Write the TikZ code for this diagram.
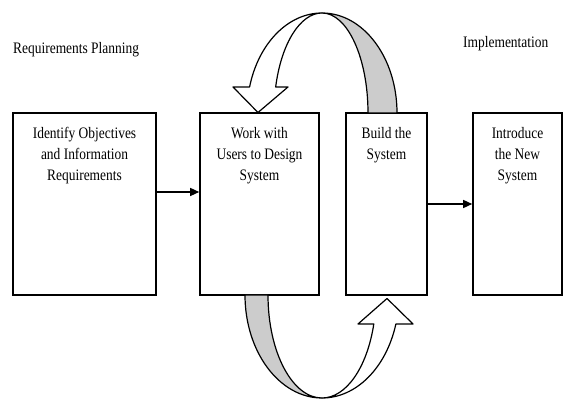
\documentclass[tikz,border=0pt]{standalone}
\usepackage{fontspec}
\setmainfont[FakeStretch=0.84]{Liberation Serif}
\usetikzlibrary{arrows.meta}
\begin{document}
\begin{tikzpicture}[x=1pt,y=1pt,
  stage/.style={draw, line width=1.6pt, minimum height=182pt, inner sep=0pt, fill=white},
  stagetext/.style={anchor=north, align=center, inner sep=0pt, font=\fontsize{16}{21}\selectfont},
  heading/.style={anchor=base west, inner sep=0pt, font=\fontsize{16}{19}\selectfont},
  flow/.style={line width=1.4pt, -{Triangle[length=9pt,width=8pt]}},
  loopfront/.style={draw, line width=1.2pt, fill=white, line join=round},
  loopback/.style={draw, line width=1.2pt, fill=black!20, line join=round}]
\useasboundingbox (0,0) rectangle (564,401);

% phase headings
\node[heading] (h1) at (13,347) {Requirements Planning};
\node[heading] (h2) at (463,353) {Implementation};

% the four stages
\node[stage, minimum width=143pt] (b1) at (84.5,197) {};
\node[stage, minimum width=119pt] (b2) at (259.5,197) {};
\node[stage, minimum width=81pt]  (b3) at (386.5,197) {};
\node[stage, minimum width=89pt]  (b4) at (517.5,197) {};

\node[stagetext] (t1) at ([yshift=-15pt]b1.north) {Identify Objectives\\and Information\\Requirements};
\node[stagetext] (t2) at ([yshift=-15pt]b2.north) {Work with\\Users to Design\\System};
\node[stagetext] (t3) at ([yshift=-15pt]b3.north) {Build the\\System};
\node[stagetext] (t4) at ([yshift=-15pt]b4.north) {Introduce\\the New\\System};

% straight transitions
\draw[flow] ([yshift=12pt]b1.east) -- ([yshift=12pt]b2.west);
\draw[flow] (b3.east) -- (b4.west);

% upper loop: Build -> Design
\path[loopback] (322,388) arc[start angle=90,end angle=0,x radius=75,y radius=100]
  -- (368,288) arc[start angle=0,end angle=90,x radius=46,y radius=100] -- cycle;
\path[loopfront] (322,388) arc[start angle=90,end angle=164.9,x radius=75,y radius=100]
  -- (233,314) -- (258,288.5) -- (288,314) -- (275.66,314.05)
  arc[start angle=164.9,end angle=90,x radius=48,y radius=100] -- cycle;

% lower loop: Design -> Build
\path[loopback] (322,3) arc[start angle=270,end angle=180,x radius=77,y radius=103]
  -- (268,106) arc[start angle=180,end angle=270,x radius=54,y radius=103] -- cycle;
\path[loopfront] (322,3) arc[start angle=270,end angle=343.65,x radius=77,y radius=103]
  -- (413,77) -- (387,102.5) -- (358,77) -- (373.8,77)
  arc[start angle=343.65,end angle=270,x radius=54,y radius=103] -- cycle;
\end{tikzpicture}
\end{document}
